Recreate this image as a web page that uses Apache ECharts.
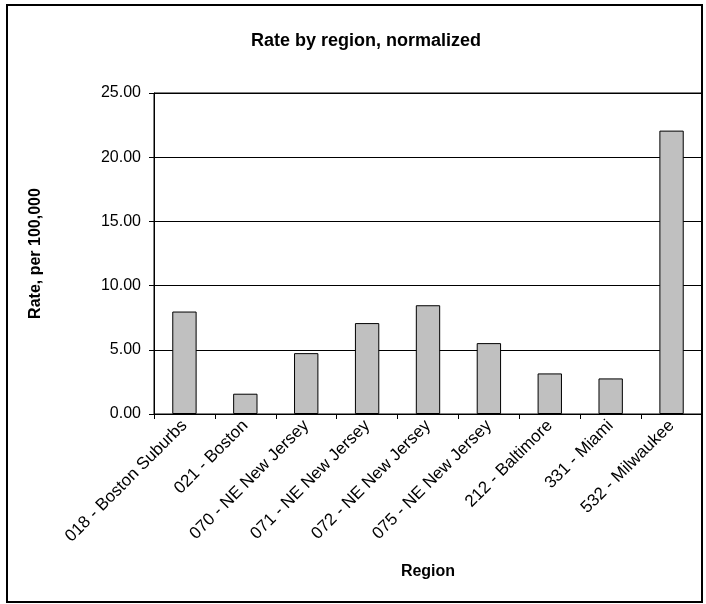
<!DOCTYPE html>
<html>
<head>
<meta charset="utf-8">
<script src="https://cdn.jsdelivr.net/npm/echarts@6/dist/echarts.min.js"></script>
<style>
html,body{margin:0;padding:0;background:#fff;}
#chart{width:706px;height:604px;}
</style>
</head>
<body>
<div id="chart"></div>
<script>
var categories = ['018 - Boston Suburbs','021 - Boston','070 - NE New Jersey','071 - NE New Jersey','072 - NE New Jersey','075 - NE New Jersey','212 - Baltimore','331 - Miami','532 - Milwaukee'];
var values = [7.98, 1.58, 4.74, 7.08, 8.47, 5.52, 3.16, 2.77, 22.07];
var yTicks = [0, 5, 10, 15, 20, 25];
var titleText = 'Rate by region, normalized';
var xName = 'Region';
var yName = 'Rate, per 100,000';

var FONT = 'Liberation Sans, Arial, sans-serif';
var chart = echarts.init(document.getElementById('chart'), null, {renderer:'canvas'});
chart.setOption({
  backgroundColor: '#fff',
  animation: false,
  title: {
    text: titleText,
    left: 361, top: 27, textAlign: 'center',
    textStyle: {fontFamily: FONT, fontSize: 18, fontWeight: 'bold', color: '#000'}
  },
  graphic: [{
    type: 'rect', shape: {x: 7, y: 5, width: 695, height: 597},
    style: {fill: 'none', stroke: '#000', lineWidth: 2}, silent: true, z: 100
  }],
  grid: {left: 154, right: 4, top: 93, bottom: 190, show: true, borderColor: '#000', borderWidth: 1, backgroundColor: '#fff'},
  xAxis: {
    type: 'category', data: categories,
    name: xName, nameLocation: 'middle', nameGap: 150,
    nameTextStyle: {fontFamily: FONT, fontSize: 16, fontWeight: 'bold', color: '#000'},
    axisLine: {lineStyle: {color: '#000', width: 1}},
    axisTick: {show: true, alignWithLabel: false, length: 5, lineStyle: {color: '#000'}},
    axisLabel: {rotate: 45, fontFamily: FONT, fontSize: 17, color: '#000', margin: 9, interval: 0},
    splitLine: {show: false}
  },
  yAxis: {
    type: 'value', min: yTicks[0], max: yTicks[yTicks.length-1], interval: 5,
    name: yName, nameLocation: 'middle', nameGap: 110, nameRotate: 90,
    nameTextStyle: {fontFamily: FONT, fontSize: 16, fontWeight: 'bold', color: '#000'},
    axisLine: {show: true, lineStyle: {color: '#000', width: 1}},
    axisTick: {show: true, length: 5, lineStyle: {color: '#000'}},
    axisLabel: {fontFamily: FONT, fontSize: 16, color: '#000', margin: 13, formatter: function(v){return v.toFixed(2);}},
    splitLine: {show: true, lineStyle: {color: '#000', width: 1}}
  },
  series: [{
    type: 'bar', data: values, barWidth: '40%',
    itemStyle: {color: '#C0C0C0', borderColor: '#000', borderWidth: 1}
  }]
});
</script>
</body>
</html>
